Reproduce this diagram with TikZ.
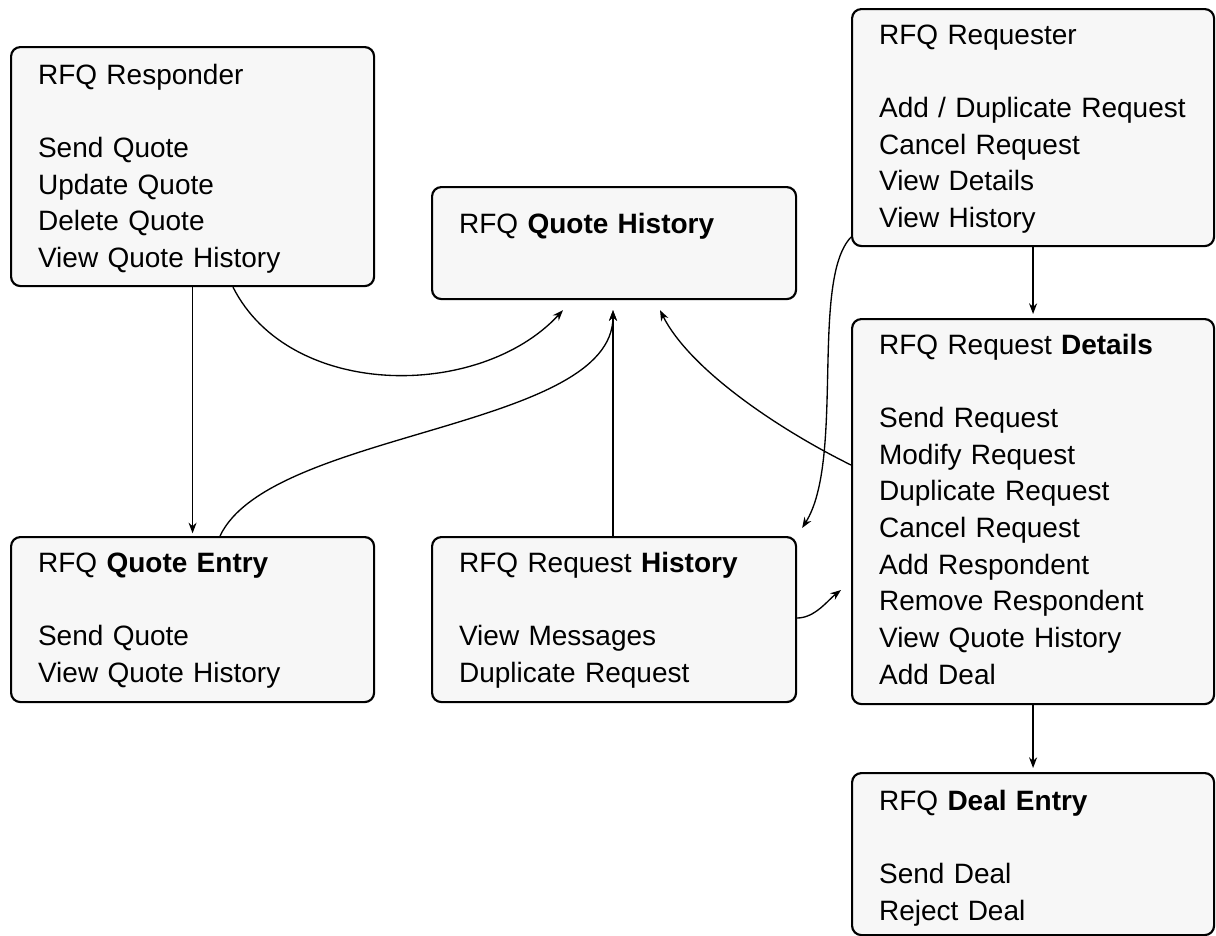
\documentclass[tikz,border=0pt]{standalone}
\usepackage{fontspec}
\setmainfont{Liberation Sans}
\usetikzlibrary{arrows.meta,calc}
\definecolor{boxfill}{HTML}{F7F7F7}
\begin{document}
\begin{tikzpicture}[x=0.75pt,y=-0.75pt,
  rfqbox/.style={draw, line width=1.6pt, rounded corners=7pt, fill=boxfill,
    anchor=north west, align=left, inner xsep=20.25pt, inner ysep=7pt,
    font=\fontsize{21}{27.5}\selectfont},
  conn/.style={line width=1pt, -{Stealth[length=8pt,width=6pt]}}]
\useasboundingbox (0,0) rectangle (1216,935);

\node[rfqbox, text width=231.75pt, text height=20.75pt, text depth=144.5pt] (resp) at (10,46)
 {RFQ Responder\\[27.5pt]Send Quote\\Update Quote\\Delete Quote\\View Quote History};
\node[rfqbox, text width=232.5pt, text height=27.5pt, text depth=42.5pt] (qhist) at (431,186)
 {RFQ \textbf{Quote History}};
\node[rfqbox, text width=231pt, text height=19.25pt, text depth=144.5pt] (requester) at (851,8)
 {RFQ Requester\\[27.5pt]Add / Duplicate Request\\Cancel Request\\View Details\\View History};
\node[rfqbox, text width=231pt, text height=19.25pt, text depth=255.5pt] (details) at (851,318)
 {RFQ Request \textbf{Details}\\[27.5pt]Send Request\\Modify Request\\Duplicate Request\\Cancel Request\\Add Respondent\\Remove Respondent\\View Quote History\\Add Deal};
\node[rfqbox, text width=231pt, text height=20.75pt, text depth=86.75pt] (deal) at (851,772)
 {RFQ \textbf{Deal Entry}\\[27.5pt]Send Deal\\Reject Deal};
\node[rfqbox, text width=231.75pt, text height=19.25pt, text depth=90.5pt] (qentry) at (10,536)
 {RFQ \textbf{Quote Entry}\\[27.5pt]Send Quote\\View Quote History};
\node[rfqbox, text width=232.5pt, text height=19.25pt, text depth=90.5pt] (rhist) at (431,536)
 {RFQ Request \textbf{History}\\[27.5pt]View Messages\\Duplicate Request};

% connectors
\draw[conn, shorten >=2pt] (resp.south) -- (qentry.north);
\draw[conn] ($(resp.south west)+(223,0)$) .. controls (290,400) and (480,400) .. ($(qhist.south west)+(132,10)$);
\draw[conn] ($(qentry.north west)+(210,0)$) .. controls (270,430) and (613,430) .. ($(qhist.south west)+(182,10)$);
\draw[conn] ($(rhist.north west)+(182,0)$) -- ($(qhist.south west)+(182,10)$);
\draw[conn] ($(details.north west)+(0,147)$) .. controls (780,430) and (690,370) .. ($(qhist.south west)+(229,10)$);
\draw[conn] ($(requester.south west)+(0,-10)$) .. controls (810,280) and (845,460) .. ($(rhist.north east)+(5,-8)$);
\draw[conn] ($(rhist.north east)+(0,82)$) .. controls (815,618) and (828,600) .. ($(details.north west)+(-10,272)$);
\draw[conn, shorten >=3pt] (requester.south) -- (details.north);
\draw[conn, shorten >=3pt] (details.south) -- (deal.north);
\end{tikzpicture}
\end{document}
